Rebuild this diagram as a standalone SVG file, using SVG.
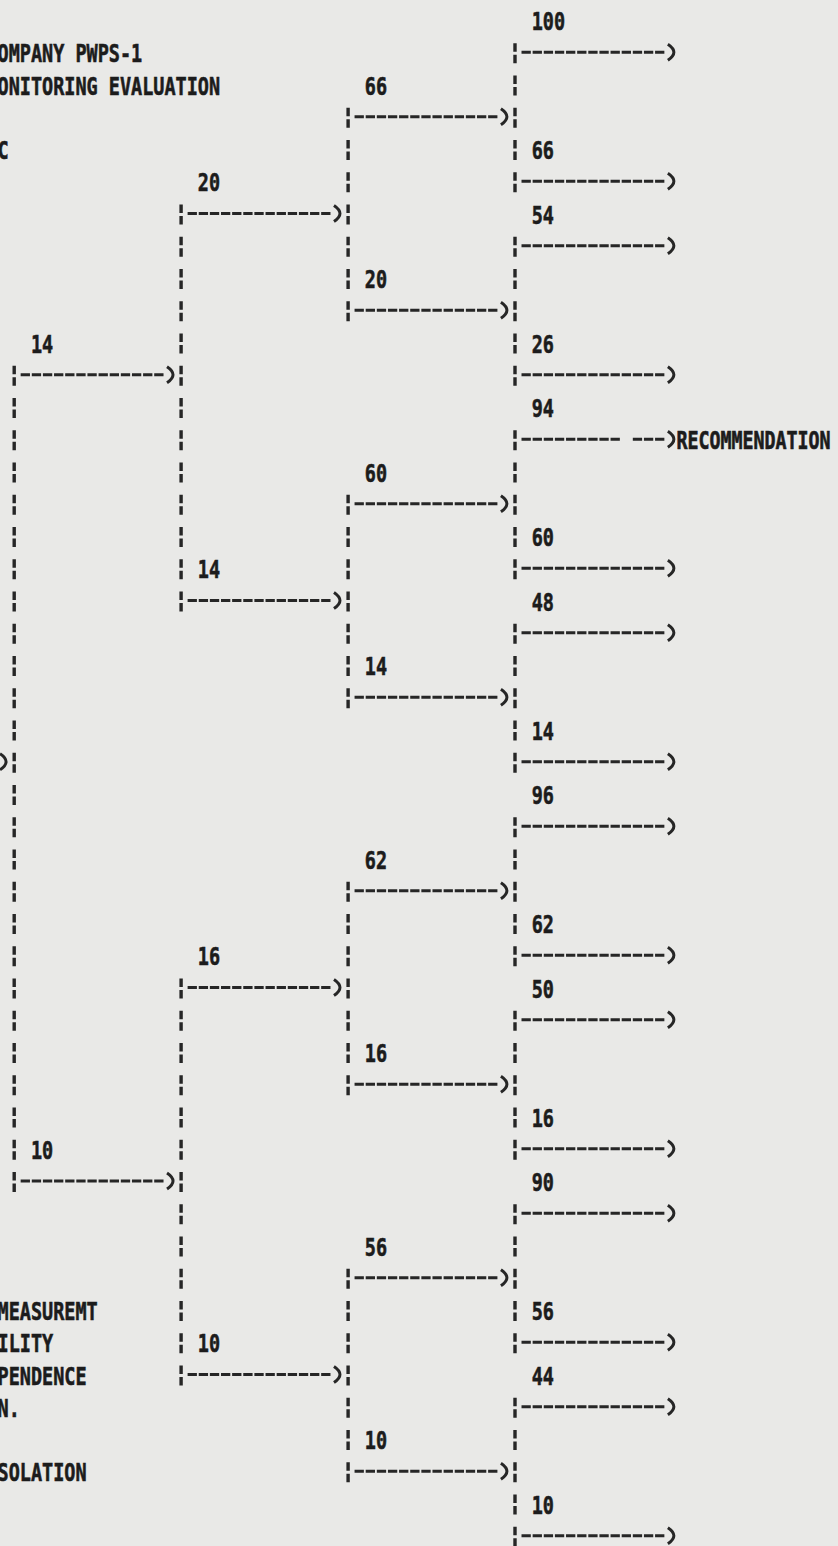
<svg xmlns="http://www.w3.org/2000/svg" width="838" height="1546" viewBox="0 0 838 1546">
<style>
.t{font-family:"DejaVu Sans Mono","Liberation Mono",monospace;font-weight:bold;font-size:25px;fill:#1c1c1c;stroke:#1c1c1c;stroke-width:0.6}
.v{stroke:#262626;stroke-width:3.4;fill:none;stroke-dasharray:8.5 3 8.5 12.25}
.h{stroke:#262626;stroke-width:3;fill:none;stroke-dasharray:9.3 1.83}
.a{marker-end:url(#ah)}
</style>
<defs>
<marker id="ah" markerUnits="userSpaceOnUse" markerWidth="20" markerHeight="20" refX="0" refY="0" orient="auto" overflow="visible">
<path d="M3.5 -8 Q15.5 0 3.5 8" fill="none" stroke="#262626" stroke-width="3" stroke-dasharray="none"/>
</marker>
</defs>
<rect width="838" height="1546" fill="#e9e9e7"/>
<g id="connectors">
<g id="bars">
<path class="v" d="M515 43.25V192.25M515 236.75V385.75M515 430.25V579.25M515 623.75V772.75M515 817.25V966.25M515 1010.75V1159.75M515 1204.25V1353.25M515 1397.75V1546.75"/>
<path class="v" d="M348.1 107.75V321.25M348.1 494.75V708.25M348.1 881.75V1095.25M348.1 1268.75V1482.25"/>
<path class="v" d="M181.1 204.5V611.5M181.1 978.5V1385.5"/>
<path class="v" d="M14.2 365.75V1192"/>
</g>
<g id="arrows" transform="translate(0,-1)">
<path class="h a" d="M521.51 53.25H664.37"/>
<path class="h a" d="M354.56 117.75H497.42"/>
<path class="h a" d="M521.51 182.25H664.37"/>
<path class="h a" d="M187.61 214.5H330.47"/>
<path class="h a" d="M521.51 246.75H664.37"/>
<path class="h a" d="M354.56 311.25H497.42"/>
<path class="h a" d="M20.66 375.75H163.52"/>
<path class="h a" d="M521.51 375.75H664.37"/>
<path class="h" d="M521.51 440.25H619.85"/>
<path class="h a" d="M632.81 440.25H664.37"/>
<path class="h a" d="M354.56 504.75H497.42"/>
<path class="h a" d="M521.51 569.25H664.37"/>
<path class="h a" d="M187.61 601.5H330.47"/>
<path class="h a" d="M521.51 633.75H664.37"/>
<path class="h a" d="M354.56 698.25H497.42"/>
<path class="h a" d="M521.51 762.75H664.37"/>
<path class="h a" d="M-12.73 762.75H-3.43"/>
<path class="h a" d="M521.51 827.25H664.37"/>
<path class="h a" d="M354.56 891.75H497.42"/>
<path class="h a" d="M521.51 956.25H664.37"/>
<path class="h a" d="M187.61 988.5H330.47"/>
<path class="h a" d="M521.51 1020.75H664.37"/>
<path class="h a" d="M354.56 1085.25H497.42"/>
<path class="h a" d="M521.51 1149.75H664.37"/>
<path class="h a" d="M20.66 1182H163.52"/>
<path class="h a" d="M521.51 1214.25H664.37"/>
<path class="h a" d="M354.56 1278.75H497.42"/>
<path class="h a" d="M521.51 1343.25H664.37"/>
<path class="h a" d="M187.61 1375.5H330.47"/>
<path class="h a" d="M521.51 1407.75H664.37"/>
<path class="h a" d="M354.56 1472.25H497.42"/>
<path class="h a" d="M521.51 1536.75H664.37"/>
</g>
</g>
<g id="texts" transform="translate(0,0.9)">
<g id="header">
<g id="title1"><text class="t" x="-2.5" y="61.45" textLength="144.69" lengthAdjust="spacingAndGlyphs">OMPANY PWPS-1</text></g>
<g id="title2"><text class="t" x="-2.5" y="93.7" textLength="222.6" lengthAdjust="spacingAndGlyphs">ONITORING EVALUATION</text></g>
<g id="title3"><text class="t" x="-2.5" y="158.2" textLength="11.13" lengthAdjust="spacingAndGlyphs">C</text></g>
</g>
<g id="left-labels">
<g id="lbl-measuremt"><text class="t" x="-2.5" y="1319.2" textLength="100.17" lengthAdjust="spacingAndGlyphs">MEASUREMT</text></g>
<g id="lbl-ility"><text class="t" x="-2.5" y="1351.45" textLength="55.65" lengthAdjust="spacingAndGlyphs">ILITY</text></g>
<g id="lbl-pendence"><text class="t" x="-2.5" y="1383.7" textLength="89.04" lengthAdjust="spacingAndGlyphs">PENDENCE</text></g>
<g id="lbl-n"><text class="t" x="-2.5" y="1415.95" textLength="22.26" lengthAdjust="spacingAndGlyphs">N.</text></g>
<g id="lbl-solation"><text class="t" x="-2.5" y="1480.45" textLength="89.04" lengthAdjust="spacingAndGlyphs">SOLATION</text></g>
</g>
<g id="recommendation"><text class="t" transform="translate(676.43 448.45) scale(1 1.36)" x="0" y="0" style="font-size:18.3px;stroke-width:0.5">RECOMMENDATION</text></g>
<g id="values">
<g id="v-k0"><text class="t" x="531.74" y="29.2" textLength="33.39" lengthAdjust="spacingAndGlyphs">100</text></g>
<g id="v-k2"><text class="t" x="364.79" y="93.7" textLength="22.26" lengthAdjust="spacingAndGlyphs">66</text></g>
<g id="v-k4"><text class="t" x="531.74" y="158.2" textLength="22.26" lengthAdjust="spacingAndGlyphs">66</text></g>
<g id="v-k5"><text class="t" x="197.84" y="190.45" textLength="22.26" lengthAdjust="spacingAndGlyphs">20</text></g>
<g id="v-k6"><text class="t" x="531.74" y="222.7" textLength="22.26" lengthAdjust="spacingAndGlyphs">54</text></g>
<g id="v-k8"><text class="t" x="364.79" y="287.2" textLength="22.26" lengthAdjust="spacingAndGlyphs">20</text></g>
<g id="v-k10a"><text class="t" x="30.89" y="351.7" textLength="22.26" lengthAdjust="spacingAndGlyphs">14</text></g>
<g id="v-k10b"><text class="t" x="531.74" y="351.7" textLength="22.26" lengthAdjust="spacingAndGlyphs">26</text></g>
<g id="v-k12"><text class="t" x="531.74" y="416.2" textLength="22.26" lengthAdjust="spacingAndGlyphs">94</text></g>
<g id="v-k14"><text class="t" x="364.79" y="480.7" textLength="22.26" lengthAdjust="spacingAndGlyphs">60</text></g>
<g id="v-k16"><text class="t" x="531.74" y="545.2" textLength="22.26" lengthAdjust="spacingAndGlyphs">60</text></g>
<g id="v-k17"><text class="t" x="197.84" y="577.45" textLength="22.26" lengthAdjust="spacingAndGlyphs">14</text></g>
<g id="v-k18"><text class="t" x="531.74" y="609.7" textLength="22.26" lengthAdjust="spacingAndGlyphs">48</text></g>
<g id="v-k20"><text class="t" x="364.79" y="674.2" textLength="22.26" lengthAdjust="spacingAndGlyphs">14</text></g>
<g id="v-k22"><text class="t" x="531.74" y="738.7" textLength="22.26" lengthAdjust="spacingAndGlyphs">14</text></g>
<g id="v-k24"><text class="t" x="531.74" y="803.2" textLength="22.26" lengthAdjust="spacingAndGlyphs">96</text></g>
<g id="v-k26"><text class="t" x="364.79" y="867.7" textLength="22.26" lengthAdjust="spacingAndGlyphs">62</text></g>
<g id="v-k28"><text class="t" x="531.74" y="932.2" textLength="22.26" lengthAdjust="spacingAndGlyphs">62</text></g>
<g id="v-k29"><text class="t" x="197.84" y="964.45" textLength="22.26" lengthAdjust="spacingAndGlyphs">16</text></g>
<g id="v-k30"><text class="t" x="531.74" y="996.7" textLength="22.26" lengthAdjust="spacingAndGlyphs">50</text></g>
<g id="v-k32"><text class="t" x="364.79" y="1061.2" textLength="22.26" lengthAdjust="spacingAndGlyphs">16</text></g>
<g id="v-k34"><text class="t" x="531.74" y="1125.7" textLength="22.26" lengthAdjust="spacingAndGlyphs">16</text></g>
<g id="v-k35"><text class="t" x="30.89" y="1157.95" textLength="22.26" lengthAdjust="spacingAndGlyphs">10</text></g>
<g id="v-k36"><text class="t" x="531.74" y="1190.2" textLength="22.26" lengthAdjust="spacingAndGlyphs">90</text></g>
<g id="v-k38"><text class="t" x="364.79" y="1254.7" textLength="22.26" lengthAdjust="spacingAndGlyphs">56</text></g>
<g id="v-k40"><text class="t" x="531.74" y="1319.2" textLength="22.26" lengthAdjust="spacingAndGlyphs">56</text></g>
<g id="v-k41"><text class="t" x="197.84" y="1351.45" textLength="22.26" lengthAdjust="spacingAndGlyphs">10</text></g>
<g id="v-k42"><text class="t" x="531.74" y="1383.7" textLength="22.26" lengthAdjust="spacingAndGlyphs">44</text></g>
<g id="v-k44"><text class="t" x="364.79" y="1448.2" textLength="22.26" lengthAdjust="spacingAndGlyphs">10</text></g>
<g id="v-k46"><text class="t" x="531.74" y="1512.7" textLength="22.26" lengthAdjust="spacingAndGlyphs">10</text></g>
</g>
</g>
</svg>
